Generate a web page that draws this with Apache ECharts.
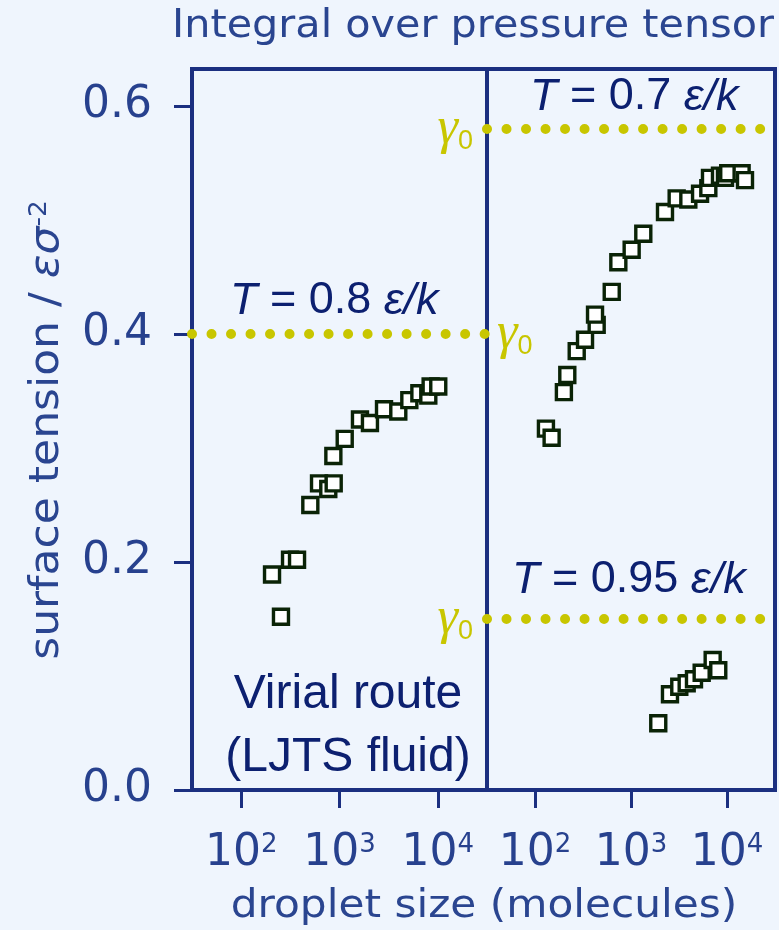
<!DOCTYPE html>
<html><head><meta charset="utf-8">
<script src="https://cdn.jsdelivr.net/npm/echarts@6/dist/echarts.min.js"></script>
<style>html,body{margin:0;padding:0;background:#EFF5FD}#c{width:779px;height:930px}</style>
</head><body><div id="c"></div><script>
// ---- data ----
const sizesT08 = [206, 254, 314, 370, 505, 619, 769, 873, 866, 1130, 1615, 2040, 2836, 3962, 5130, 6490, 8000, 8450, 10100];
const gammaT08 = [0.189, 0.152, 0.202, 0.202, 0.250, 0.269, 0.264, 0.269, 0.293, 0.308, 0.325, 0.322, 0.334, 0.332, 0.342, 0.348, 0.346, 0.354, 0.354];
const sizesT07 = [130, 149, 200, 217, 272, 332, 439, 422, 630, 738, 1016, 1343, 2260, 2990, 3955, 5240, 6390, 6650, 8450, 9530, 10300, 14200, 15400];
const gammaT07 = [0.317, 0.309, 0.349, 0.364, 0.385, 0.395, 0.408, 0.417, 0.437, 0.463, 0.474, 0.488, 0.507, 0.519, 0.518, 0.523, 0.528, 0.537, 0.539, 0.537, 0.541, 0.541, 0.535];
const sizesT095 = [1923, 2547, 3184, 3802, 4530, 5448, 7092, 8110];
const gammaT095 = [0.0585, 0.084, 0.0906, 0.0936, 0.0971, 0.1029, 0.114, 0.105];
const gamma0 = {T08: 0.403, T07: 0.581, T095: 0.155};
const xTicks = [100, 1000, 10000];
const yTicks = [0, 0.2, 0.4, 0.6];
const labels = {
  title: 'Integral over pressure tensor',
  xName: 'droplet size (molecules)',
  t08: '{i|T} = 0.8 {i|ε/k}', t07: '{i|T} = 0.7 {i|ε/k}', t095: '{i|T} = 0.95 {i|ε/k}',
  virial1: 'Virial route', virial2: '(LJTS fluid)'
};

// ---- styles ----
const navy = '#1b2f80', tickCol = '#27418e', annCol = '#0c2070', dotCol = '#c8c600', titleCol = '#2a4590';
const pts = (xs, ys) => xs.map((x, i) => [x, ys[i]]);
const markStyle = {symbol: 'rect', symbolSize: 15, itemStyle: {color: '#ffffff', borderColor: '#0a2306', borderWidth: 3.4, opacity: 1}};
const g0Label = (pos, dist) => ({show: true, position: pos, distance: dist, formatter: '{g|γ}{s|0}',
  rich: {g: {fontFamily: 'Liberation Serif', fontStyle: 'italic', fontSize: 52, color: dotCol},
         s: {fontFamily: 'Liberation Sans', fontSize: 27, color: dotCol, verticalAlign: 'bottom'}}});
const g0Line = (val, pos, dist) => ({silent: true, symbol: ['none', 'none'], animation: false,
  lineStyle: {color: dotCol, width: 10, opacity: 1, type: [0.01, 19.5], cap: 'round'},
  label: g0Label(pos, dist), emphasis: {disabled: true}, data: [{yAxis: val}]});

const xAxisBase = gi => ({type: 'log', gridIndex: gi, logBase: 10, min: Math.pow(10, 1.5), max: Math.pow(10, 4.5),
  axisLine: {show: false}, splitLine: {show: false},
  axisTick: {show: true, length: 18, lineStyle: {width: 3, color: navy}, customValues: xTicks},
  axisLabel: {customValues: xTicks, margin: 42, color: tickCol, fontFamily: 'DejaVu Sans', fontSize: 44,
    formatter: v => '10{s|' + Math.round(Math.log10(v)) + '}',
    rich: {s: {fontFamily: 'DejaVu Sans', fontSize: 26, color: tickCol, verticalAlign: 'top'}}}});

const txt = (text, x, y, opts) => Object.assign({type: 'text', x: x, y: y, silent: true,
  style: Object.assign({text: text, align: 'left', verticalAlign: 'middle', fontFamily: 'Liberation Sans', fontSize: 45, fill: annCol,
    rich: {i: {fontFamily: 'Liberation Sans', fontStyle: 'italic', fontSize: 45, fill: annCol}}}, opts.style || {})}, opts.el || {});

const chart = echarts.init(document.getElementById('c'), null, {renderer: 'canvas'});
chart.setOption({
  backgroundColor: '#EFF5FD',
  animation: false,
  grid: [
    {left: 192, top: 69, width: 295, height: 721, show: true, borderColor: navy, borderWidth: 4, backgroundColor: 'transparent'},
    {left: 487, top: 69, width: 288, height: 721, show: true, borderColor: navy, borderWidth: 4, backgroundColor: 'transparent'}
  ],
  xAxis: [xAxisBase(0), xAxisBase(1)],
  yAxis: [
    {type: 'value', gridIndex: 0, min: 0, max: 0.6325, axisLine: {show: false}, splitLine: {show: false},
     axisTick: {show: true, length: 18, lineStyle: {width: 3, color: navy}, customValues: yTicks},
     axisLabel: {customValues: yTicks, margin: 40, color: tickCol, fontFamily: 'DejaVu Sans', fontSize: 44, formatter: v => v.toFixed(1)}},
    {type: 'value', gridIndex: 1, min: 0, max: 0.6325, show: false}
  ],
  series: [
    Object.assign({type: 'scatter', name: 'T=0.8', xAxisIndex: 0, yAxisIndex: 0, data: pts(sizesT08, gammaT08),
      markLine: g0Line(gamma0.T08, 'end', 10)}, markStyle),
    Object.assign({type: 'scatter', name: 'T=0.7', xAxisIndex: 1, yAxisIndex: 1, data: pts(sizesT07, gammaT07),
      markLine: g0Line(gamma0.T07, 'start', 14)}, markStyle),
    Object.assign({type: 'scatter', name: 'T=0.95', xAxisIndex: 1, yAxisIndex: 1, data: pts(sizesT095, gammaT095),
      markLine: g0Line(gamma0.T095, 'start', 14)}, markStyle)
  ],
  graphic: [
    txt(labels.title, 473, 27, {style: {align: 'center', fontFamily: 'DejaVu Sans', fontSize: 39, fill: titleCol}, el: {scaleX: 1.06}}),
    txt(labels.xName, 484, 907, {style: {align: 'center', fontFamily: 'DejaVu Sans', fontSize: 39.5, fill: titleCol}, el: {scaleX: 1.07}}),
    txt('{n|surface tension / }{i|εσ}{s|-2}', 48, 430, {style: {align: 'center', fontFamily: 'DejaVu Sans', fontSize: 40, fill: titleCol,
      rich: {n: {fontFamily: 'DejaVu Sans', fontSize: 40, fill: titleCol},
             i: {fontFamily: 'DejaVu Sans', fontStyle: 'italic', fontSize: 40, fill: titleCol},
             s: {fontFamily: 'DejaVu Sans', fontSize: 24, fill: titleCol, verticalAlign: 'top'}}}, el: {rotation: Math.PI / 2, scaleX: 1.1}}),
    txt(labels.t08, 230, 301, {}),
    txt(labels.t07, 530, 97, {}),
    txt(labels.t095, 512, 580, {}),
    txt(labels.virial1, 348, 695, {style: {align: 'center', fontSize: 48}}),
    txt(labels.virial2, 348, 758, {style: {align: 'center', fontSize: 48}})
  ]
});
</script></body></html>
